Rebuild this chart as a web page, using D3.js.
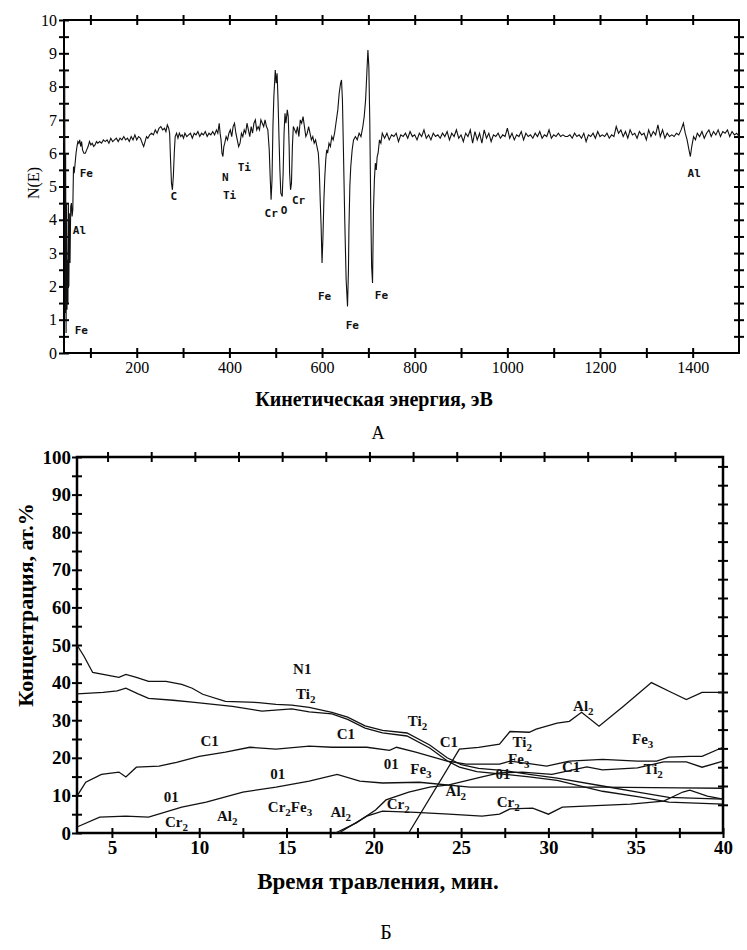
<!DOCTYPE html>
<html>
<head>
<meta charset="utf-8">
<script src="https://cdn.jsdelivr.net/npm/d3@7"></script>
<style>
  body { margin: 0; background: #fff; }
  svg { display: block; }
</style>
</head>
<body>
<svg id="chart" width="747" height="950"></svg>
<script>
// ---------- A: Auger spectrum, [energy eV, N(E)] ----------
const spectrumA = [
  [43,6.3],[44.5,8.5],[45.5,1.2],[46.5,6.0],[47.5,0.6],[48.5,4.5],[49.5,1.3],[50.5,2.8],[51.5,1.5],[52.5,4.5],
  [53.5,2.0],[54.5,4.2],[56,2.7],[57.5,4.4],[59,4.5],[60.5,4.1],[62,4.3],[63.5,5.6],[65,5.4],[67,5.7],
  [69,6.0],[71,6.2],[73,6.35],[75,6.3],[77,6.4],[79,6.2],[81,6.35],[83,6.1],[86,6.0],[89,6.0],
  [92,6.1],[95,6.2],[98,6.35],[101,6.25],[104,6.3],[107,6.2],[110,6.25],[113,6.35],[116,6.3],[120,6.35],
  [124,6.3],[128,6.4],[132,6.35],[136,6.4],[140,6.3],[144,6.45],[148,6.35],[152,6.4],[156,6.45],[160,6.35],
  [164,6.45],[168,6.4],[172,6.5],[176,6.4],[180,6.45],[184,6.35],[188,6.5],[192,6.4],[196,6.55],[200,6.4],
  [204,6.5],[208,6.45],[212,6.3],[215,6.2],[218,6.35],[221,6.5],[224,6.45],[228,6.55],[232,6.6],[236,6.55],
  [240,6.7],[244,6.6],[248,6.75],[252,6.8],[256,6.7],[260,6.75],[263,6.65],[266,6.85],[269,6.75],[271,6.6],
  [273,5.8],[275,5.1],[277,4.9],[279,5.3],[281,6.0],[283,6.5],[286,6.6],[289,6.45],[292,6.6],[295,6.5],
  [298,6.55],[301,6.45],[304,6.6],[308,6.5],[312,6.55],[316,6.6],[320,6.45],[324,6.6],[328,6.55],[332,6.65],
  [336,6.5],[340,6.6],[344,6.55],[348,6.65],[352,6.5],[356,6.6],[360,6.55],[364,6.65],[368,6.55],[372,6.7],
  [375,6.6],[378,6.9],[380,6.6],[382,6.4],[384,6.0],[386,5.9],[388,6.2],[390,6.3],[393,6.5],[396,6.4],
  [399,6.6],[402,6.7],[405,6.5],[408,6.8],[411,6.9],[414,6.6],[417,6.4],[420,6.2],[423,6.3],[426,6.6],
  [429,6.5],[432,6.7],[435,6.6],[438,6.9],[441,6.7],[444,6.5],[447,6.8],[450,6.6],[453,6.9],[456,7.0],
  [459,6.7],[462,6.8],[465,6.7],[468,7.0],[471,6.9],[474,6.8],[477,7.0],[480,6.8],[483,6.7],[486,6.1],
  [488,5.3],[490,4.6],[492,5.2],[494,6.8],[496,7.7],[499,8.5],[501,8.1],[503,8.4],[505,7.6],[507,6.5],
  [509,5.5],[511,4.8],[514,4.7],[516,5.4],[518,6.6],[520,7.2],[522,6.9],[525,7.3],[527,7.1],[529,6.2],
  [530,5.4],[532,4.9],[534,5.1],[536,6.2],[538,6.8],[541,6.7],[544,6.6],[547,6.8],[550,6.5],[553,7.0],
  [556,6.9],[559,7.1],[562,6.8],[565,6.5],[568,6.6],[571,6.8],[574,6.6],[577,6.4],[580,6.5],[583,6.3],
  [586,6.4],[589,6.2],[592,6.0],[594,5.5],[596,4.6],[598,3.8],[600,2.7],[602,3.5],[604,4.6],[606,5.3],
  [608,5.8],[610,6.1],[612,6.0],[615,6.3],[618,6.2],[621,6.5],[624,6.4],[627,6.6],[630,6.9],[634,7.3],
  [637,7.8],[640,8.1],[642,8.2],[644,7.6],[646,6.2],[649,4.0],[652,2.2],[655,1.4],[657,2.5],[658,3.7],
  [660,5.0],[662,5.6],[665,6.1],[668,6.4],[672,6.5],[676,6.4],[680,6.6],[684,6.5],[688,6.8],[691,7.1],
  [694,7.6],[697,8.5],[699,9.1],[701,8.6],[703,7.0],[705,4.5],[707,2.6],[709,2.1],[711,4.3],[713,5.2],
  [715,5.7],[717,5.5],[719,5.9],[721,6.0],[724,6.4],[727,6.3],[730,6.6],[735,6.45],[740,6.6],[745,6.4],
  [750,6.55],[755,6.5],[760,6.6],[765,6.35],[770,6.55],[775,6.5],[780,6.6],[785,6.45],[790,6.65],[795,6.5],
  [800,6.55],[805,6.4],[810,6.6],[815,6.5],[820,6.7],[825,6.45],[830,6.55],[835,6.4],[840,6.6],[845,6.5],
  [850,6.55],[855,6.45],[860,6.6],[865,6.5],[870,6.65],[875,6.4],[880,6.6],[885,6.5],[890,6.7],[895,6.45],
  [900,6.55],[905,6.35],[910,6.6],[915,6.5],[920,6.7],[925,6.3],[930,6.65],[935,6.4],[940,6.6],[945,6.3],
  [950,6.7],[955,6.45],[960,6.6],[965,6.35],[970,6.55],[975,6.5],[980,6.6],[985,6.45],[990,6.55],[995,6.5],
  [1000,6.75],[1005,6.45],[1010,6.6],[1015,6.4],[1020,6.55],[1025,6.5],[1030,6.65],[1035,6.4],[1040,6.6],[1045,6.5],
  [1050,6.55],[1055,6.45],[1060,6.6],[1065,6.5],[1070,6.65],[1075,6.45],[1080,6.55],[1085,6.5],[1090,6.7],[1095,6.45],
  [1100,6.55],[1105,6.5],[1110,6.6],[1115,6.5],[1120,6.55],[1125,6.5],[1130,6.5],[1135,6.55],[1140,6.45],[1145,6.6],
  [1150,6.5],[1155,6.55],[1160,6.45],[1165,6.6],[1170,6.35],[1175,6.55],[1180,6.5],[1185,6.6],[1190,6.45],[1195,6.65],
  [1200,6.5],[1205,6.55],[1210,6.5],[1215,6.6],[1220,6.45],[1225,6.55],[1230,6.5],[1235,6.8],[1240,6.6],[1245,6.7],
  [1250,6.5],[1255,6.65],[1260,6.45],[1265,6.7],[1270,6.55],[1275,6.6],[1280,6.45],[1285,6.65],[1290,6.55],[1295,6.6],
  [1300,6.4],[1305,6.7],[1310,6.5],[1315,6.65],[1320,6.55],[1325,6.85],[1330,6.5],[1335,6.7],[1340,6.45],[1345,6.6],
  [1350,6.5],[1355,6.55],[1360,6.5],[1365,6.6],[1370,6.55],[1375,6.7],[1380,6.9],[1384,6.6],[1388,6.4],[1392,6.1],
  [1395,5.9],[1398,6.2],[1402,6.5],[1406,6.4],[1410,6.6],[1415,6.5],[1420,6.65],[1425,6.45],[1430,6.6],[1435,6.7],
  [1440,6.5],[1445,6.65],[1450,6.55],[1455,6.7],[1460,6.5],[1465,6.65],[1470,6.6],[1475,6.7],[1480,6.5],[1485,6.65],
  [1490,6.55],[1495,6.6],[1500,6.5]
];
// peak labels (left edge energy, centre N)
const peakLabels = [
  ["Fe",77,5.4],["Al",62,3.7],["Fe",66,0.7],["C",273,4.7],["N",384,5.3],["Ti",386,4.75],["Ti",418,5.6],
  ["Cr",476,4.2],["O",511,4.3],["Cr",535,4.6],["Fe",591,1.7],["Fe",651,0.85],["Fe",714,1.75],["Al",1389,5.4]
];
const ticksA_y = d3.range(0, 21).map(i => i / 2);
const ticksA_x = d3.range(1, 15).map(i => i * 100);

// ---------- Б: depth profile, [time min, at.%] ----------
const profN1 = [[3,50],[3.4,47],[3.9,42.7],[5.4,41.4],[5.8,42.2],[6.4,41.4],[7.1,40.3],[8.1,40.3],[9.0,39.5],[9.6,38.5],
  [10.2,36.9],[11.5,35.0],[13.4,34.7],[14.4,34.2],[15.3,34.0],[16.3,33.4],[17.6,32.1],[18.5,30.8],[19.5,28.5],[20.5,27.3],
  [21.9,26.6],[23.2,23.4],[24.2,20.0],[25.0,18.2],[26.0,17.2],[27.5,16.6],[28.9,15.6],[30.5,14.6],[33.1,12.5],[35.2,10.8],
  [36.9,9.5],[40,9.0]];
const profTi2 = [[3,37],[4.5,37.4],[5.3,37.8],[5.8,38.5],[6.5,37.0],[7.1,35.8],[8.5,35.3],[9.6,34.8],[11.9,33.7],[13.6,32.4],
  [15.3,33.0],[16.3,32.2],[17.6,31.7],[18.5,30.2],[19.5,27.9],[20.5,26.6],[21.9,25.8],[23.2,22.6],[24.2,19.2],[24.9,17.5],
  [25.9,16.3],[27.5,15.6],[28.9,14.9],[30.5,14.0],[33.1,11.1],[35.2,9.6],[36.9,8.2],[40,7.7]];
const profC1 = [[3,9.8],[3.5,13.5],[4.4,15.6],[5.4,16.2],[5.8,14.9],[6.4,17.5],[7.7,17.8],[8.7,18.8],[10,20.4],[11.5,21.5],
  [12.9,22.8],[14.4,22.3],[16.3,23.1],[17.6,22.8],[19.6,22.8],[20.9,22.0],[21.3,22.8],[22.4,21.5],[23.4,20.2],[24.2,19.1],
  [25.3,18.3],[27.2,18.3],[27.8,19.1],[29.0,18.4],[29.9,17.8],[31.2,19.1],[33.1,19.6],[35.1,19.1],[36.2,19.1],[36.9,20.2],
  [38.1,20.4],[38.8,20.4],[40,22.8]];
const profO1 = [[3,1.6],[4.3,4.2],[5.8,4.5],[7.1,4.2],[9.0,6.9],[10.4,8.2],[12.5,10.9],[14.4,12.2],[16.3,13.8],[17.9,15.6],
  [19.2,13.8],[20.5,13.3],[22.6,13.5],[25.5,12.2],[28.3,12.2],[33,12.2],[37.5,12.0],[40,11.9]];
const profFe3 = [[17.8,0],[19,2.7],[20.1,6.1],[20.7,8.8],[22,10.9],[23.2,12.2],[24.3,12.8],[26.2,14.9],[27.2,16.0],[28.5,16.2],
  [30.2,15.6],[32.2,17.6],[33.1,16.8],[35.1,17.3],[36.6,18.9],[37.9,18.9],[38.8,17.5],[40,19.1]];
const profAl2 = [[22,0],[24.9,22.3],[26,22.8],[27.2,23.6],[27.8,27.0],[28.9,26.8],[29.3,27.6],[30.5,29.2],[31.2,29.7],[31.9,32.1],
  [32.9,28.4],[34.3,33.7],[35.9,40.0],[37.0,37.5],[37.9,35.5],[38.8,37.4],[40,37.4]];
const profCr2 = [[18,0],[19.6,4.5],[20.5,5.8],[22.4,5.5],[24.3,5.0],[26.2,4.5],[27.2,5.0],[27.8,6.4],[29.1,6.6],[30,5.0],
  [30.8,6.9],[32.4,7.2],[34.7,7.7],[36.6,8.5],[37.7,10.9],[38.1,11.4],[39.1,9.8],[40,9.0]];
// curve labels, "_" marks a subscript digit (centre time, centre %)
const curveLabels = [
  ["N1",15.9,43.5],["Ti_2",16.1,36.9],["C1",10.6,24.4],["C1",18.4,26.3],["01",14.5,15.6],["01",8.4,9.5],
  ["Cr_2",8.7,2.9],["Al_2",11.6,4.5],["Cr_2Fe_3",15.2,6.9],["Al_2",18.1,5.6],["Ti_2",22.5,29.7],["Al_2",32.0,33.7],
  ["C1",24.3,24.1],["Ti_2",28.5,24.1],["Fe_3",35.4,24.9],["01",21.0,18.3],["Fe_3",22.7,17.0],["Fe_3",28.3,19.6],
  ["C1",31.3,17.5],["Ti_2",36.0,17.0],["01",27.4,15.6],["Al_2",24.7,11.1],["Cr_2",21.4,7.7],["Cr_2",27.7,8.2]
];
const ticksB_y = d3.range(0, 21).map(i => i * 5);
const ticksB_x = d3.range(2, 17).map(i => i * 2.5);
const ticksB_top = d3.range(2, 16).map(i => i * 2.5 - 0.25);
const ticksB_right = d3.range(0, 19).map(i => 7.5 + i * 5);

const serif = "'Liberation Serif', 'Times New Roman', serif";
const svg = d3.select("#chart");

function styleAxis(g, size, weight) {
  g.select(".domain").remove();
  g.selectAll(".tick line").attr("stroke", "#000").attr("stroke-width", 2);
  g.selectAll(".tick text")
    .attr("font-family", serif)
    .attr("font-size", size)
    .attr("font-weight", weight)
    .attr("fill", "#000");
}

// ===== chart A =====
const xA = d3.scaleLinear().domain([43, 1500]).range([64, 739]);
const yA = d3.scaleLinear().domain([0, 10]).range([353, 20]);

svg.append("g").attr("transform", "translate(64,0)")
  .call(d3.axisLeft(yA).tickValues(ticksA_y).tickSize(5).tickPadding(2)
    .tickFormat(d => Number.isInteger(d) ? d : ""))
  .call(g => { styleAxis(g, 16, "normal"); g.selectAll(".tick line").attr("x1", 5); });

svg.append("g").attr("transform", "translate(739,0)")
  .call(d3.axisRight(yA).tickValues(ticksA_y.filter(d => d > 0 && d < 10)).tickSize(5).tickFormat(""))
  .call(g => { styleAxis(g, 16, "normal"); g.selectAll(".tick line").attr("x1", -5); });

svg.append("g").attr("transform", "translate(0,353)")
  .call(d3.axisBottom(xA).tickValues(ticksA_x).tickSize(5).tickPadding(4)
    .tickFormat(d => d % 200 === 0 ? d : ""))
  .call(g => { styleAxis(g, 16, "normal"); g.selectAll(".tick line").attr("y1", -5); });

svg.append("g").attr("transform", "translate(0,20)")
  .call(d3.axisTop(xA).tickValues(ticksA_x).tickSize(5).tickFormat(""))
  .call(g => { styleAxis(g, 16, "normal"); g.selectAll(".tick line").attr("y1", 5); });

svg.append("rect").attr("x", 64).attr("y", 20).attr("width", 739 - 64).attr("height", 353 - 20)
  .attr("fill", "none").attr("stroke", "#000").attr("stroke-width", 2);

svg.append("path").datum(spectrumA)
  .attr("fill", "none").attr("stroke", "#111").attr("stroke-width", 1.1)
  .attr("d", d3.line().x(d => xA(d[0])).y(d => yA(d[1])));

svg.append("g").selectAll("text").data(peakLabels).join("text")
  .attr("x", d => xA(d[1])).attr("y", d => yA(d[2]) + 4)
  .attr("font-family", "'DejaVu Sans Mono', monospace").attr("font-size", 11).attr("font-weight", "bold")
  .attr("fill", "#111")
  .text(d => d[0]);

svg.append("text").attr("transform", "translate(39,183) rotate(-90)")
  .attr("text-anchor", "middle").attr("font-family", serif).attr("font-size", 16)
  .text("N(E)");

svg.append("text").attr("x", 374).attr("y", 406)
  .attr("text-anchor", "middle").attr("font-family", serif).attr("font-size", 20).attr("font-weight", "bold")
  .text("Кинетическая энергия, эВ");

svg.append("text").attr("x", 378).attr("y", 439)
  .attr("text-anchor", "middle").attr("font-family", serif).attr("font-size", 18)
  .text("А");

// ===== chart Б =====
const xB = d3.scaleLinear().domain([3, 40]).range([77, 723]);
const yB = d3.scaleLinear().domain([0, 100]).range([833, 457]);

svg.append("g").attr("transform", "translate(77,0)")
  .call(d3.axisLeft(yB).tickValues(ticksB_y).tickSize(5).tickPadding(1)
    .tickFormat(d => d % 10 === 0 ? d : ""))
  .call(g => { styleAxis(g, 19, "bold"); g.selectAll(".tick line").attr("x1", 5); });

svg.append("g").attr("transform", "translate(723,0)")
  .call(d3.axisRight(yB).tickValues(ticksB_right).tickSize(5).tickFormat(""))
  .call(g => { styleAxis(g, 19, "bold"); g.selectAll(".tick line").attr("x1", -5); });

svg.append("g").attr("transform", "translate(0,833)")
  .call(d3.axisBottom(xB).tickValues(ticksB_x).tickSize(5).tickPadding(3)
    .tickFormat(d => d % 5 === 0 ? d : ""))
  .call(g => { styleAxis(g, 19, "bold"); g.selectAll(".tick line").attr("y1", -5); });

svg.append("g").attr("transform", "translate(0,457)")
  .call(d3.axisTop(xB).tickValues(ticksB_top).tickSize(5).tickFormat(""))
  .call(g => { styleAxis(g, 19, "bold"); g.selectAll(".tick line").attr("y1", 5); });

svg.append("rect").attr("x", 77).attr("y", 457).attr("width", 723 - 77).attr("height", 833 - 457)
  .attr("fill", "none").attr("stroke", "#000").attr("stroke-width", 2.5);

const lineB = d3.line().x(d => xB(d[0])).y(d => yB(d[1]));
svg.append("g").selectAll("path")
  .data([profN1, profTi2, profC1, profO1, profFe3, profAl2, profCr2])
  .join("path")
  .attr("fill", "none").attr("stroke", "#111").attr("stroke-width", 1.3)
  .attr("d", lineB);

const lab = svg.append("g").selectAll("text").data(curveLabels).join("text")
  .attr("x", d => xB(d[1])).attr("y", d => yB(d[2]) + 5)
  .attr("text-anchor", "middle")
  .attr("font-family", serif).attr("font-size", 15).attr("font-weight", "bold").attr("fill", "#111");
lab.each(function (d) {
  const t = d3.select(this);
  let down = false;
  d[0].split(/(_\d)/).filter(s => s).forEach(s => {
    if (s[0] === "_") {
      t.append("tspan").attr("font-size", 11).attr("dy", 4).text(s.slice(1));
      down = true;
    } else {
      t.append("tspan").attr("dy", down ? -4 : 0).text(s);
      down = false;
    }
  });
});

svg.append("text").attr("transform", "translate(33,605) rotate(-90)")
  .attr("text-anchor", "middle").attr("font-family", serif).attr("font-size", 22).attr("font-weight", "bold")
  .text("Концентрация, ат.%");

svg.append("text").attr("x", 378).attr("y", 889)
  .attr("text-anchor", "middle").attr("font-family", serif).attr("font-size", 23).attr("font-weight", "bold")
  .text("Время травления, мин.");

svg.append("text").attr("x", 386).attr("y", 939)
  .attr("text-anchor", "middle").attr("font-family", serif).attr("font-size", 20)
  .text("Б");
</script>
</body>
</html>
